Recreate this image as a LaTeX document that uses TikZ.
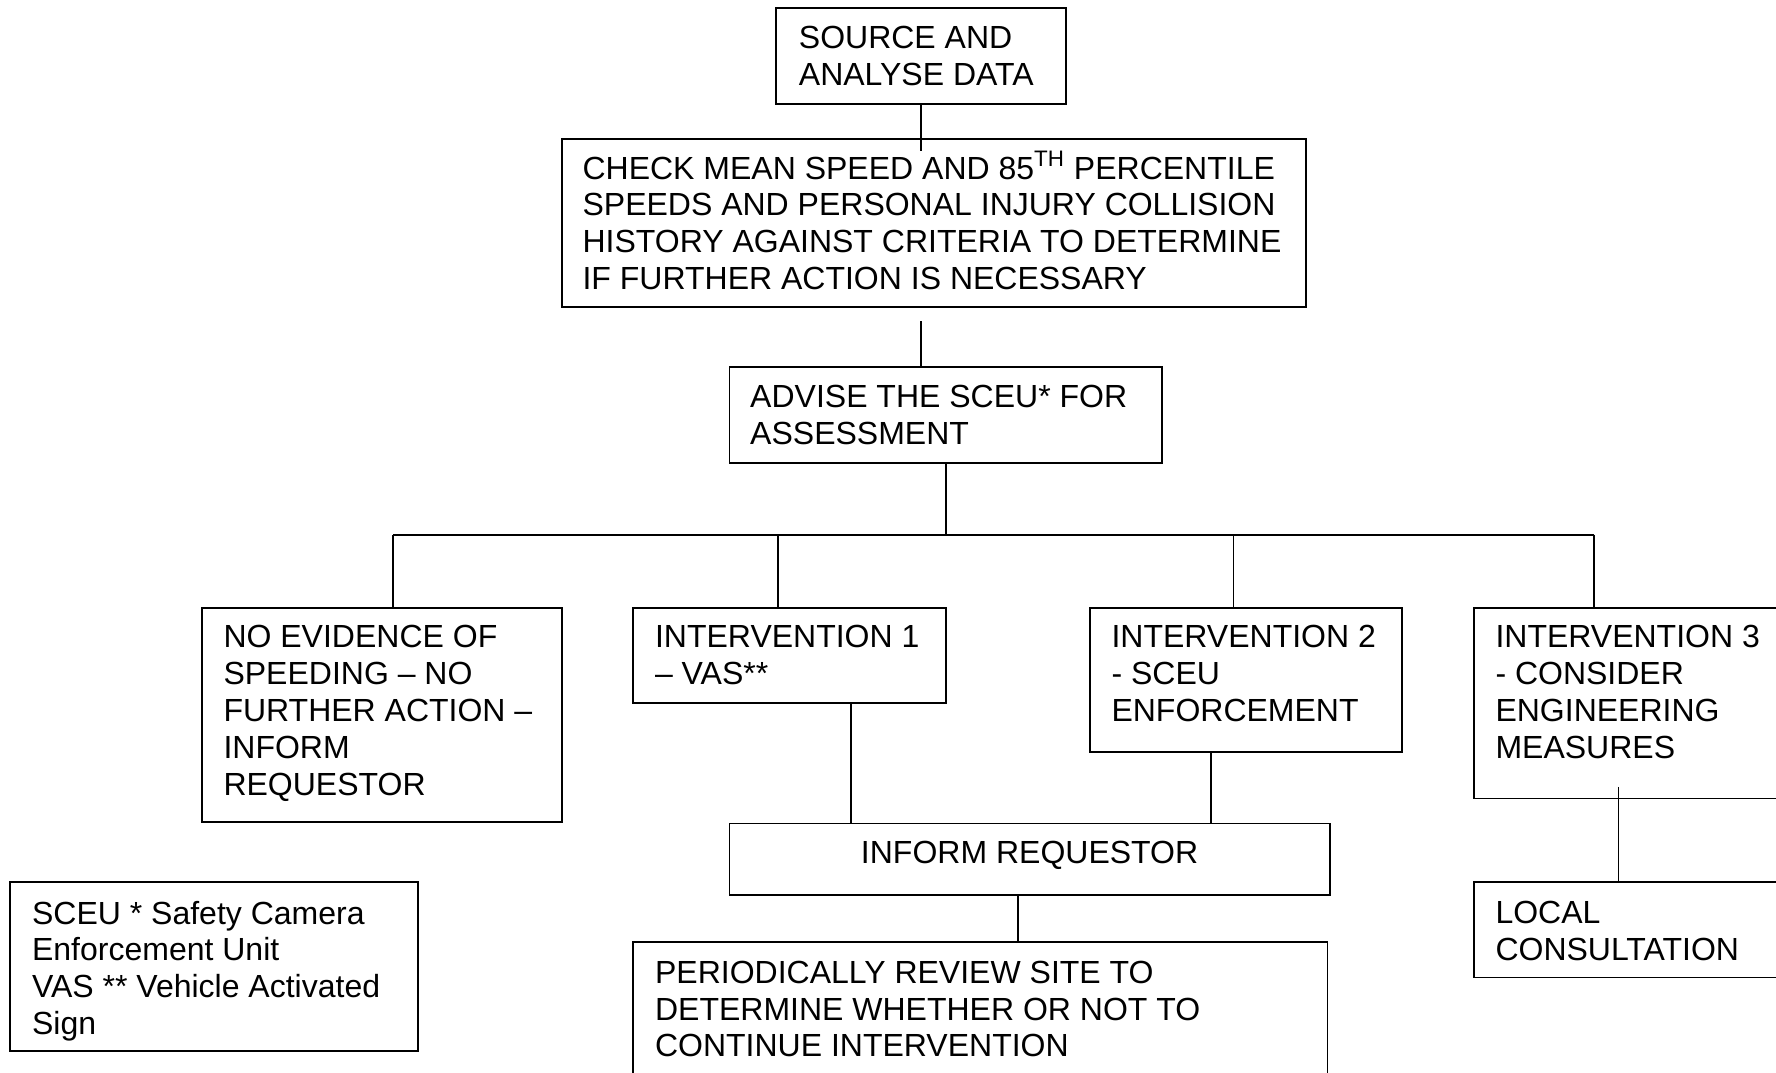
\documentclass[tikz,border=0pt]{standalone}
\usepackage{fontspec}
\setmainfont{Liberation Sans}
\usetikzlibrary{fit,calc}
\begin{document}
\begin{tikzpicture}[x=0.56635pt, y=-0.56635pt,
  box/.style={draw, line width=0.9pt, inner sep=0pt},
  txt/.style={anchor=north west, align=left, inner sep=0pt, font=\fontsize{16}{18.4}\selectfont},
  conn/.style={line width=0.9pt}]
\clip (0,0) rectangle (1568,947);
% boxes and texts
\node[box, fit={(685,7) (941,92)}] (src) {};
\node[txt] (srcT) at (705,23) {SOURCE AND\\ANALYSE DATA};
\node[box, fit={(496,123) (1153,271)}] (chk) {};
\node[txt] (chkT) at (514,138) {CHECK MEAN SPEED AND 85\smash{\textsuperscript{TH}} PERCENTILE\\SPEEDS AND PERSONAL INJURY COLLISION\\HISTORY AGAINST CRITERIA TO DETERMINE\\IF FURTHER ACTION IS NECESSARY};
\node[box, fit={(644,324) (1026,409)}] (adv) {};
\node[txt] (advT) at (662,340) {ADVISE THE SCEU* FOR\\ASSESSMENT};
\node[box, fit={(178,537) (496,726)}] (noev) {};
\node[txt] (noevT) at (197,552) {NO EVIDENCE OF\\SPEEDING – NO\\FURTHER ACTION –\\INFORM\\REQUESTOR};
\node[box, fit={(559,537) (835,621)}] (int1) {};
\node[txt] (int1T) at (578,552) {INTERVENTION 1\\– VAS**};
\node[box, fit={(962,537) (1238,664)}] (int2) {};
\node[txt] (int2T) at (981,552) {INTERVENTION 2\\- SCEU\\ENFORCEMENT};
\node[box, fit={(1301,537) (1600,705)}] (int3) {};
\node[txt] (int3T) at (1320,552) {INTERVENTION 3\\- CONSIDER\\ENGINEERING\\MEASURES};
\node[box, fit={(644,727) (1174,790)}] (inf) {};
\node[txt, anchor=base] (infT) at (909,762) {INFORM REQUESTOR};
\node[box, fit={(559,832) (1172,990)}] (per) {};
\node[txt] (perT) at (578,848) {PERIODICALLY REVIEW SITE TO\\DETERMINE WHETHER OR NOT TO\\CONTINUE INTERVENTION};
\node[box, fit={(1301,779) (1600,863)}] (loc) {};
\node[txt] (locT) at (1320,795) {LOCAL\\CONSULTATION};
\node[box, fit={(9,779) (369,928)}] (leg) {};
\node[txt] (legT) at (28,795) {SCEU * Safety Camera\\Enforcement Unit\\VAS ** Vehicle Activated\\Sign};
% helper coordinates
\coordinate (bus) at (835,472);
\coordinate (b1) at (347,472);
\coordinate (b2) at (687,472);
\coordinate (b3) at (1089,472);
\coordinate (b4) at (1407,472);
\coordinate (x751) at (751,0);
\coordinate (x1069) at (1069,0);
\coordinate (x899) at (899,0);
\coordinate (x1429) at (1429,0);
% connectors
\draw[conn] (src.south) -- ($(src.south |- chk.north)+(0,11)$);
\draw[conn] ($(src.south |- chk.south)+(0,12)$) -- (src.south |- adv.north);
\draw[conn] (adv.south) -- (bus);
\draw[conn] (b1) -- (b4);
\draw[conn] (b1) -- (b1 |- noev.north);
\draw[conn] (b2) -- (b2 |- int1.north);
\draw[conn] (b3) -- (b3 |- int2.north);
\draw[conn] (b4) -- (b4 |- int3.north);
\draw[conn] (int1.south -| x751) -- (inf.north -| x751);
\draw[conn] (int2.south -| x1069) -- (inf.north -| x1069);
\draw[conn] (inf.south -| x899) -- (per.north -| x899);
\draw[conn] ($(int3.south -| x1429)+(0,-11)$) -- (loc.north -| x1429);
\end{tikzpicture}
\end{document}
